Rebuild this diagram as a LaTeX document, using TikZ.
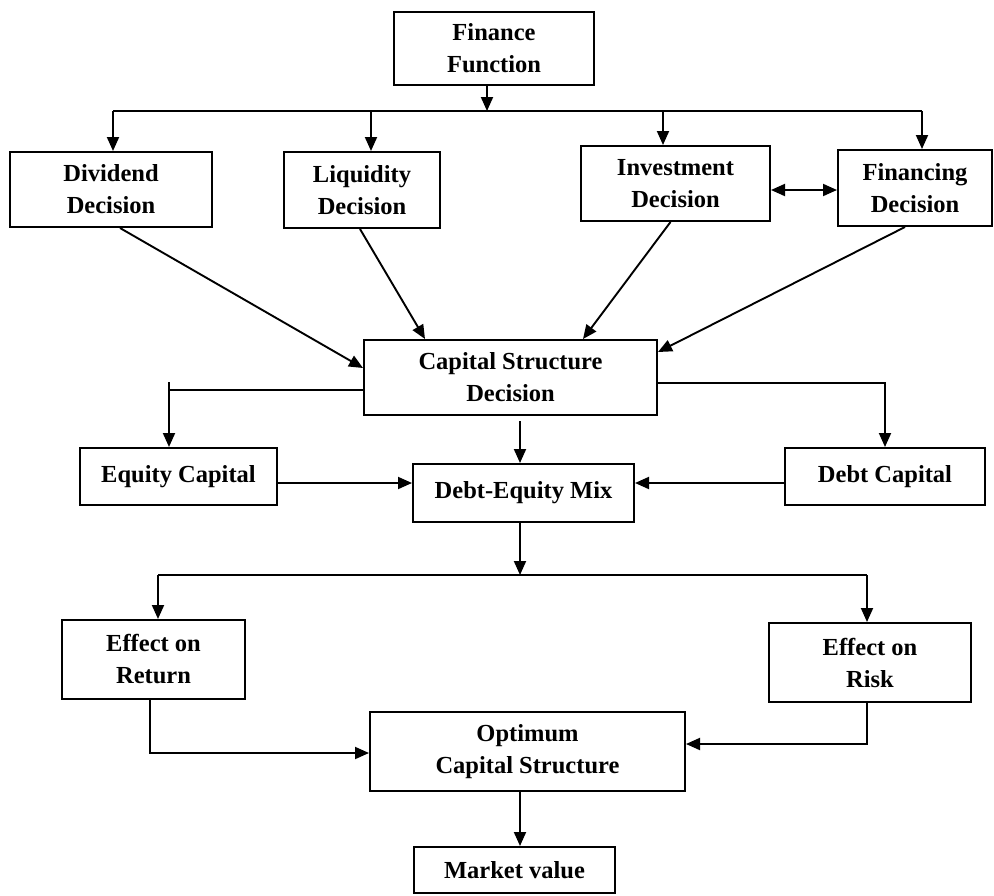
\documentclass[tikz,border=0pt]{standalone}
\usepackage{fontspec}
\setmainfont{Liberation Serif}
\usetikzlibrary{arrows.meta}
\begin{document}
\begin{tikzpicture}[x=1pt,y=-1pt,
  box/.style={draw, line width=2pt, inner sep=0pt, align=center,
    font=\fontsize{24.5}{32}\selectfont\bfseries},
  ln/.style={line width=1.9pt},
  arr/.style={ln, -{Triangle[length=14pt,width=12pt]}},
  darr/.style={ln, {Triangle[length=14pt,width=12pt]}-{Triangle[length=14pt,width=12pt]}}]
\useasboundingbox (0,0) rectangle (994,895);
% boxes
\node[box, minimum width=200pt, minimum height=73pt] (ff)   at (494,48.5)  {Finance\\Function};
\node[box, minimum width=202pt, minimum height=75pt] (div)  at (111,189.5) {Dividend\\Decision};
\node[box, minimum width=156pt, minimum height=76pt] (liq)  at (362,190)   {Liquidity\\Decision};
\node[box, minimum width=189pt, minimum height=75pt] (inv)  at (675.5,183.5) {Investment\\Decision};
\node[box, minimum width=154pt, minimum height=76pt] (fin)  at (915,188)   {Financing\\Decision};
\node[box, minimum width=293pt, minimum height=75pt] (csd)  at (510.5,377.5) {Capital Structure\\Decision};
\node[box, minimum width=197pt, minimum height=57pt] (eq)   at (178.5,476.5) {Equity Capital};
\node[box, minimum width=221pt, minimum height=58pt] (mix)  at (523.5,493)   {Debt-Equity Mix};
\node[box, minimum width=200pt, minimum height=57pt] (debt) at (885,476.5)   {Debt Capital};
\node[box, minimum width=183pt, minimum height=79pt] (ret)  at (153.5,659.5) {Effect on\\Return};
\node[box, minimum width=202pt, minimum height=79pt] (risk) at (870,662.5)   {Effect on\\Risk};
\node[box, minimum width=315pt, minimum height=79pt] (opt)  at (527.5,751.5) {Optimum\\Capital Structure};
\node[box, minimum width=201pt, minimum height=46pt] (mkt)  at (514.5,870)   {Market value};
% coordinates
\coordinate (bus) at (487,111);
\coordinate (busL) at (113,111);
\coordinate (busR) at (922,111);
\coordinate (liqx) at (371,111);
\coordinate (invx) at (663,111);
\coordinate (eqc) at (169,390);
\coordinate (dc) at (885,383);
\coordinate (m1) at (520,483);
\coordinate (bus2) at (520,575);
\coordinate (b2L) at (158,575);
\coordinate (b2R) at (867,575);
\coordinate (rc) at (150,753);
\coordinate (kc) at (867,744);
% top bus
\draw[arr] (ff.south -| bus) -- (bus);
\draw[ln] (busL) -- (busR);
\draw[arr] (busL) -- (busL |- div.north);
\draw[arr] (liqx) -- (liqx |- liq.north);
\draw[arr] (invx) -- (invx |- inv.north);
\draw[arr] (busR) -- (busR |- fin.north);
\draw[darr] ([yshift=-6.5pt]inv.east) -- ([yshift=-2pt]fin.west);
% into capital structure
\draw[arr] ([xshift=9pt]div.south) -- ([yshift=9.5pt]csd.west);
\draw[arr] ([xshift=-2pt]liq.south) -- ([xshift=-85.5pt]csd.north);
\draw[arr] ([xshift=-5pt]inv.south) -- ([xshift=72.5pt]csd.north);
\draw[arr] ([xshift=-10pt]fin.south) -- ([yshift=25.5pt]csd.east);
% from capital structure
\draw[ln] (csd.west |- eqc) -- (eqc);
\draw[arr] ([yshift=8pt]eqc) -- (eqc |- eq.north);
\draw[arr] (csd.east |- dc) -| (debt.north);
\draw[arr] ([yshift=-5pt]csd.south -| m1) -- (mix.north -| m1);
\draw[arr] (eq.east |- m1) -- (mix.west |- m1);
\draw[arr] (debt.west |- m1) -- (mix.east |- m1);
% lower bus
\draw[arr] (mix.south -| bus2) -- (bus2);
\draw[ln] (b2L) -- (b2R);
\draw[arr] (b2L) -- (b2L |- ret.north);
\draw[arr] (b2R) -- (b2R |- risk.north);
\draw[arr] (ret.south -| rc) |- (opt.west |- rc);
\draw[arr] (risk.south -| kc) |- (opt.east |- kc);
\draw[arr] (opt.south -| m1) -- (mkt.north -| m1);
\end{tikzpicture}
\end{document}
